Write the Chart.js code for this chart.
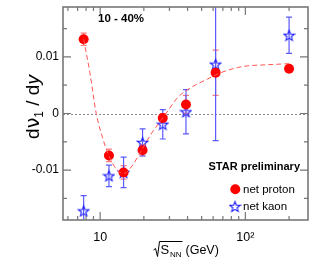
<!DOCTYPE html>
<html><head><meta charset="utf-8">
<script src="https://cdn.jsdelivr.net/npm/chart.js@4/dist/chart.umd.min.js"></script>
<style>html,body{margin:0;padding:0;background:#fff;}canvas{display:block;}</style>
</head><body>
<canvas id="c" width="315" height="269"></canvas>
<script>
// ---- data ----
const energies   = [7.7, 11.5, 14.5, 19.6, 27, 39, 62.4, 200];
const protonV    = [0.0131, -0.0074, -0.0104, -0.0065, -0.0008, 0.0016, 0.0072, 0.0079];
const protonErr  = [0.0011, 0.0011, 0.0012, 0.0010, 0.0008, 0.0016, 0.0040, 0.0004];
const kaonV      = [-0.0172, -0.0110, -0.0104, -0.0051, -0.0019, 0.0003, 0.0087, 0.0138];
const kaonErr    = [0.0027, 0.0019, 0.0027, 0.0024, 0.0026, 0.0039, 0.0135, 0.0032];
const fitE       = [7.7, 8.5, 9.4, 10.4, 11.5, 12.5, 13.5, 14.6, 16.2, 19.4, 22.2, 25.9, 29.5, 34.4, 42.4, 55, 67.7, 88, 103, 140, 200];
const fitV       = [0.0131, 0.0072, 0.0000, -0.0043, -0.0075, -0.0093, -0.0103, -0.0106, -0.0096, -0.0064, -0.0038, -0.0014, 0.0006, 0.0029, 0.0046, 0.0061, 0.0072, 0.0081, 0.0084, 0.0086, 0.0088];
const xTickVals  = [6, 7, 8, 9, 10, 20, 30, 40, 50, 60, 70, 80, 90, 100, 200];
const xMajor     = [10, 100];
const xTickLabels = {10: '10', 100: '10\u00b2'};
const yTickVals  = [-0.015, -0.01, -0.005, 0, 0.005, 0.01, 0.015];
const yMajor     = [-0.01, 0, 0.01];
const yTickLabels = ['-0.01', '0', '0.01'];
const seriesNames = ['net proton', 'net kaon'];

const FONT = '"Liberation Sans", Arial, Helvetica, sans-serif';
const RED = '#ff0000', BLUE = '#2020ff';

function makeStar(size, r, color) {
  const c = document.createElement('canvas');
  c.width = size; c.height = size;
  const g = c.getContext('2d');
  const cx = size / 2, cy = size / 2 + 0.5, ri = r * 0.42;
  g.beginPath();
  for (let i = 0; i < 10; i++) {
    const rr = i % 2 === 0 ? r : ri;
    const a = -Math.PI / 2 + i * Math.PI / 5;
    const px = cx + rr * Math.cos(a), py = cy + rr * Math.sin(a);
    if (i === 0) g.moveTo(px, py); else g.lineTo(px, py);
  }
  g.closePath();
  g.strokeStyle = color; g.lineWidth = 1.1; g.stroke();
  return c;
}
const starImg = makeStar(13, 5.5, BLUE);

const isMaj = (v, arr) => arr.some(m => Math.abs(m - v) < 1e-9);
const noPad = s => { s.paddingTop = 0; s.paddingBottom = 0; s.paddingLeft = 0; s.paddingRight = 0; };

const errPlugin = {
  id: 'errbars',
  beforeDatasetsDraw(chart) {
    const {ctx, chartArea: a, scales: {x, y}} = chart;
    ctx.save();
    // zero line
    ctx.strokeStyle = '#888'; ctx.lineWidth = 1; ctx.setLineDash([2, 2]);
    const y0 = Math.round(y.getPixelForValue(0)) + 0.5;
    ctx.beginPath(); ctx.moveTo(a.left, y0); ctx.lineTo(a.right, y0); ctx.stroke();
    ctx.setLineDash([]);
    ctx.beginPath(); ctx.rect(a.left, a.top, a.right - a.left, a.bottom - a.top); ctx.clip();
    const draw = (vals, errs, color) => {
      ctx.strokeStyle = color; ctx.lineWidth = 1.2;
      energies.forEach((e, i) => {
        const px = x.getPixelForValue(e);
        const yt = y.getPixelForValue(vals[i] + errs[i]);
        const yb = y.getPixelForValue(vals[i] - errs[i]);
        ctx.beginPath();
        ctx.moveTo(px, yt); ctx.lineTo(px, yb);
        ctx.moveTo(px - 3, yt); ctx.lineTo(px + 3, yt);
        ctx.moveTo(px - 3, yb); ctx.lineTo(px + 3, yb);
        ctx.stroke();
      });
    };
    draw(protonV, protonErr, '#ff7a7a');
    draw(kaonV, kaonErr, '#5a5aff');
    ctx.restore();
  },
  afterDraw(chart) {
    const {ctx, chartArea: a, scales: {x, y}} = chart;
    ctx.save();
    // frame
    ctx.strokeStyle = '#777'; ctx.lineWidth = 1.6;
    ctx.strokeRect(a.left, a.top, a.right - a.left, a.bottom - a.top);
    ctx.lineWidth = 1.2;
    ctx.beginPath();
    xTickVals.forEach(v => {
      const px = x.getPixelForValue(v);
      const L = isMaj(v, xMajor) ? 8 : 4;
      ctx.moveTo(px, a.bottom); ctx.lineTo(px, a.bottom - L);
      ctx.moveTo(px, a.top); ctx.lineTo(px, a.top + L);
    });
    yTickVals.forEach(v => {
      const py = y.getPixelForValue(v);
      const L = isMaj(v, yMajor) ? 8 : 4;
      ctx.moveTo(a.left, py); ctx.lineTo(a.left + L, py);
      ctx.moveTo(a.right, py); ctx.lineTo(a.right - L, py);
    });
    ctx.stroke();

    // texts
    ctx.fillStyle = '#000';
    ctx.textBaseline = 'middle';
    ctx.textAlign = 'center';
    ctx.font = 'bold 11.5px ' + FONT;
    ctx.fillText('10 - 40%', 121, 19);
    ctx.textAlign = 'right';
    ctx.font = 'bold 11px ' + FONT;
    ctx.fillText('STAR preliminary', 300, 167);

    // legend
    ctx.textAlign = 'left';
    ctx.font = '11.5px ' + FONT;
    ctx.fillStyle = RED;
    ctx.beginPath(); ctx.arc(235.3, 189.3, 5, 0, Math.PI * 2); ctx.fill();
    ctx.drawImage(starImg, 235 - 6.5, 206.5 - 6.5);
    ctx.fillStyle = '#000';
    ctx.fillText(seriesNames[0], 243, 189.5);
    ctx.fillText(seriesNames[1], 243, 207);

    // y-axis title
    ctx.save();
    ctx.translate(38.5, 107);
    ctx.rotate(-Math.PI / 2);
    ctx.textBaseline = 'alphabetic';
    ctx.textAlign = 'left';
    const big = '19px ' + FONT, small = '12px ' + FONT;
    const parts = [
      {t: 'd', f: big, dy: 0},
      {t: '\u03bd', f: '19px "DejaVu Sans", ' + FONT, dy: 0},
      {t: '1', f: small, dy: 4},
      {t: ' / d', f: big, dy: 0},
      {t: 'y', f: 'italic 19px ' + FONT, dy: 0}
    ];
    let total = 0;
    parts.forEach(p => { ctx.font = p.f; p.w = ctx.measureText(p.t).width; total += p.w; });
    let lx = -total / 2;
    parts.forEach(p => { ctx.font = p.f; ctx.fillText(p.t, lx, p.dy); lx += p.w; });
    ctx.restore();

    // x-axis title: sqrt(S_NN) (GeV)
    ctx.strokeStyle = '#000'; ctx.lineWidth = 1;
    ctx.beginPath();
    ctx.moveTo(153.5, 250); ctx.lineTo(155.5, 248.5); ctx.lineTo(157.5, 256.5);
    ctx.lineTo(159.5, 241.5); ctx.lineTo(182.5, 241.5);
    ctx.stroke();
    ctx.textBaseline = 'alphabetic';
    ctx.textAlign = 'left';
    ctx.font = '13px ' + FONT;
    ctx.fillText('S', 160.5, 253.5);
    ctx.font = '8px ' + FONT;
    ctx.fillText('NN', 170, 256.5);
    ctx.font = '12.5px ' + FONT;
    ctx.fillText('(GeV)', 185.5, 253.5);
    ctx.restore();
  }
};

const chart = new Chart(document.getElementById('c'), {
  type: 'scatter',
  data: {
    datasets: [
      {
        label: 'fit', data: fitE.map((e, i) => ({x: e, y: fitV[i]})),
        showLine: true, pointRadius: 0, borderColor: '#ff5555', borderWidth: 1,
        borderDash: [5, 3], cubicInterpolationMode: 'monotone', fill: false
      },
      {
        label: seriesNames[0], data: energies.map((e, i) => ({x: e, y: protonV[i]})),
        pointStyle: 'circle', pointRadius: 5, backgroundColor: RED, borderColor: RED, borderWidth: 0
      },
      {
        label: seriesNames[1], data: energies.map((e, i) => ({x: e, y: kaonV[i]})),
        pointStyle: starImg, pointRadius: 6
      }
    ]
  },
  options: {
    responsive: false, animation: false,
    layout: {padding: {left: 0, right: 3, top: 4, bottom: 0}},
    plugins: {legend: {display: false}, tooltip: {enabled: false}},
    scales: {
      x: {
        type: 'logarithmic', min: 5.55, max: 270,
        grid: {display: false, drawTicks: false}, border: {display: false},
        afterBuildTicks: s => { s.ticks = xTickVals.map(v => ({value: v})); },
        afterFit: s => { s.height = 49; noPad(s); },
        ticks: {
          autoSkip: false, maxRotation: 0, padding: 10, color: '#000',
          font: {family: FONT, size: 12.5},
          callback: v => xTickLabels[v] || ''
        }
      },
      y: {
        type: 'linear', min: -0.0188, max: 0.0188,
        grid: {display: false, drawTicks: false}, border: {display: false},
        afterBuildTicks: s => { s.ticks = yTickVals.map(v => ({value: v})); },
        afterFit: s => { s.width = 63; noPad(s); },
        ticks: {
          autoSkip: false, padding: 4, color: '#000',
          font: {family: FONT, size: 12},
          callback: v => { const k = yMajor.findIndex(m => Math.abs(m - v) < 1e-9); return k >= 0 ? yTickLabels[k] : ''; }
        }
      }
    }
  },
  plugins: [errPlugin]
});
</script>
</body></html>
